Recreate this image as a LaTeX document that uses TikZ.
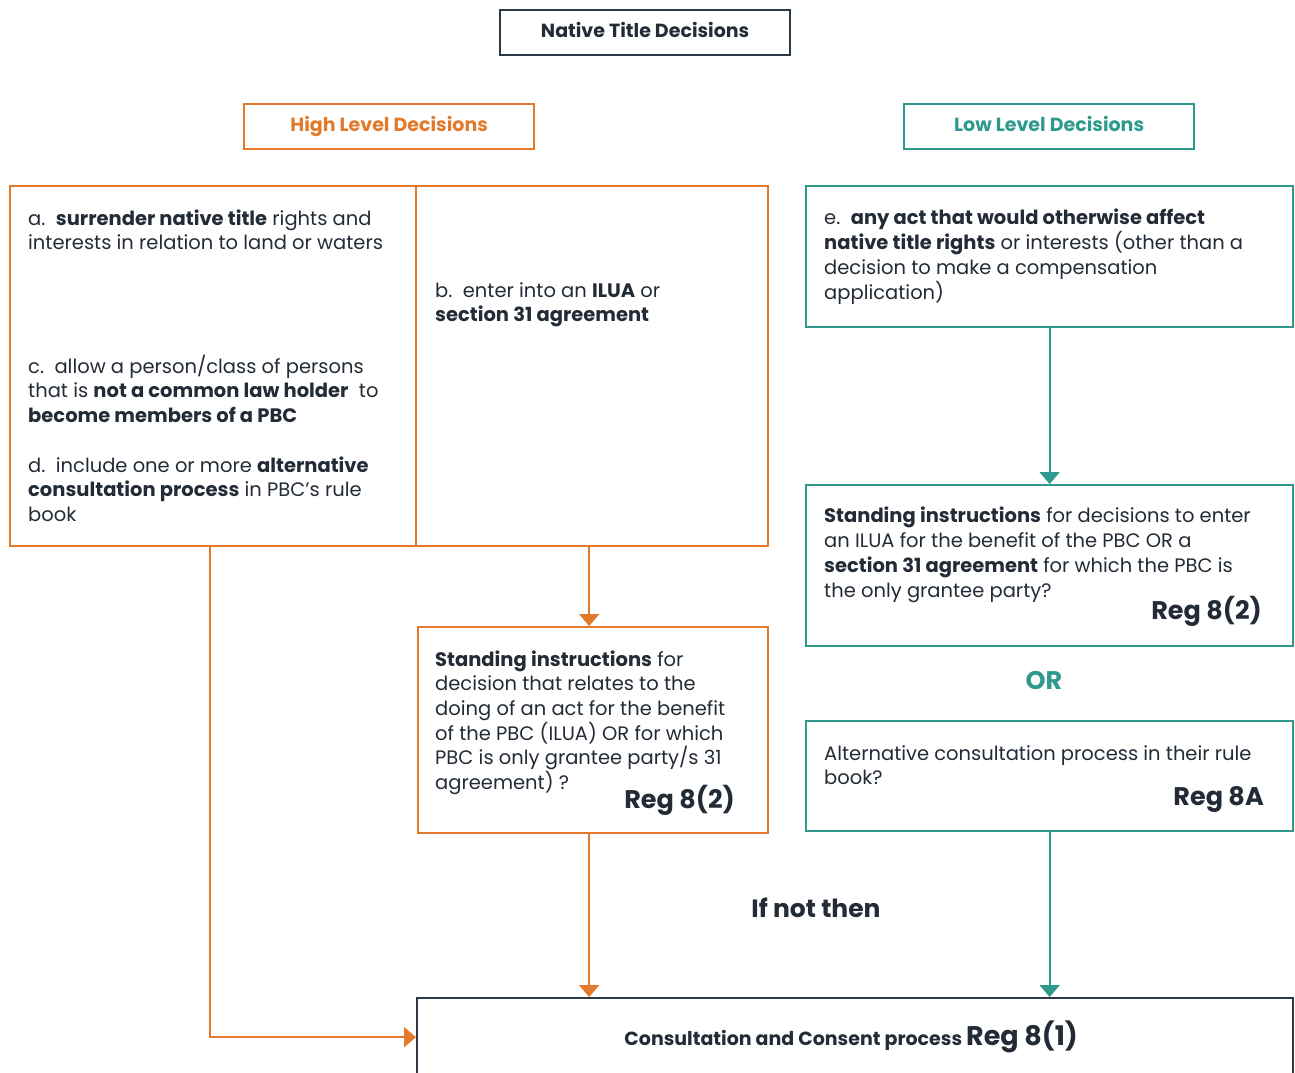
\documentclass[tikz,border=0pt]{standalone}
\usepackage{fontspec}
\setmainfont{Poppins}
\usetikzlibrary{arrows.meta}
\definecolor{org}{HTML}{E2792B}
\definecolor{tl}{HTML}{2E9A8E}
\definecolor{dk}{HTML}{222B36}
\definecolor{dkb}{HTML}{2C3A48}
\begin{document}
\begin{tikzpicture}[x=1pt,y=-1pt,
  txt/.style={anchor=base west, inner sep=0pt, align=left, text=dk, font=\fontsize{19.5}{24.7}\selectfont},
  regtxt/.style={anchor=base east, inner sep=0pt, text=dk, font=\bfseries\fontsize{25.5}{28}\selectfont},
  boxo/.style={draw=org, line width=2.3pt, anchor=north west, inner sep=0pt},
  boxt/.style={draw=tl, line width=2.3pt, anchor=north west, inner sep=0pt},
  boxd/.style={draw=dkb, line width=2.3pt, anchor=north west, inner sep=0pt},
  headtxt/.style={font=\bfseries\fontsize{19}{22}\selectfont, text height=14pt, text depth=3.6pt, minimum width=290pt, minimum height=45pt},
  arro/.style={draw=org, line width=2.3pt, -{Triangle[width=20pt,length=12pt]}},
  arrt/.style={draw=tl, line width=2.3pt, -{Triangle[width=20pt,length=12pt]}}
]
\useasboundingbox (0,0) rectangle (1295,1072);
% headers
\node[boxd, headtxt, text=dk] (title) at (499,9) {Native Title Decisions};
\node[boxo, headtxt, text=org] (high) at (243,103) {High Level Decisions};
\node[boxt, headtxt, text=tl] (low) at (903,103) {Low Level Decisions};
% big orange box
\node[boxo, minimum width=758pt, minimum height=360pt] (big) at (9,185) {};
\coordinate (divtop) at (416,185);
\draw[org, line width=2.3pt] (divtop) -- (divtop |- big.south);
\node[txt] (ta) at (28,249.7) {a.\ \ \textbf{surrender native title} rights and\\interests in relation to land or waters};
\node[txt] (tb) at (435,321.7) {b.\ \ enter into an \textbf{ILUA} or\\\textbf{section 31 agreement}};
\node[txt] (tc) at (28,422.4) {c.\ \ allow a person/class of persons\\that is \textbf{not a common law holder}\ \ to\\\textbf{become members of a PBC}};
\node[txt] (td) at (28,521.4) {d.\ \ include one or more \textbf{alternative}\\\textbf{consultation process} in PBC’s rule\\book};
% left standing instructions
\node[boxo, minimum width=350pt, minimum height=206pt] (sil) at (417,626) {};
\node[txt] (tsil) at (435,789.5) {\textbf{Standing instructions} for\\decision that relates to the\\doing of an act for the benefit\\of the PBC (ILUA) OR for which\\PBC is only grantee party/s 31\\agreement) ?};
\node[regtxt] (rsil) at (735,808) {Reg 8(2)};
% right column
\node[boxt, minimum width=487pt, minimum height=141pt] (e) at (805,185) {};
\node[txt] (te) at (824,299) {e.\ \ \textbf{any act that would otherwise affect}\\\textbf{native title rights} or interests (other than a\\decision to make a compensation\\application)};
\node[boxt, minimum width=487pt, minimum height=161pt] (sir) at (805,484) {};
\node[txt] (tsir) at (824,597) {\textbf{Standing instructions} for decisions to enter\\an ILUA for the benefit of the PBC OR a\\\textbf{section 31 agreement} for which the PBC is\\the only grantee party?};
\node[regtxt] (rsir) at (1262,619) {Reg 8(2)};
\node[inner sep=0pt, text=tl, font=\bfseries\fontsize{25.5}{28}\selectfont] (or) at (1044,680) {OR};
\node[boxt, minimum width=487pt, minimum height=110pt] (alt) at (805,720) {};
\node[txt] (talt) at (824,784.7) {Alternative consultation process in their rule\\book?};
\node[regtxt] (ralt) at (1264,805) {Reg 8A};
% bottom
\node[inner sep=0pt, text=dk, font=\bfseries\fontsize{25}{28}\selectfont] (ifnot) at (816,908) {If not then};
\node[boxd, minimum width=876pt, minimum height=78pt, font=\bfseries\fontsize{19}{22}\selectfont, text=dk] (bot) at (416,997) {Consultation and Consent process {\fontsize{27}{30}\selectfont Reg 8(1)}\hspace*{8pt}};
% arrows
\coordinate (silin) at ([xshift=-4pt]sil.north);
\coordinate (silout) at ([xshift=-4pt]sil.south);
\draw[arro] (big.south -| silin) -- (silin);
\draw[arro] (silout) -- (silout |- bot.north);
\draw[arro] (big.south -| 210,0) |- (bot.west);
\draw[arrt] (e.south) -- (sir.north);
\draw[arrt] (alt.south) -- (alt.south |- bot.north);
\end{tikzpicture}
\end{document}
